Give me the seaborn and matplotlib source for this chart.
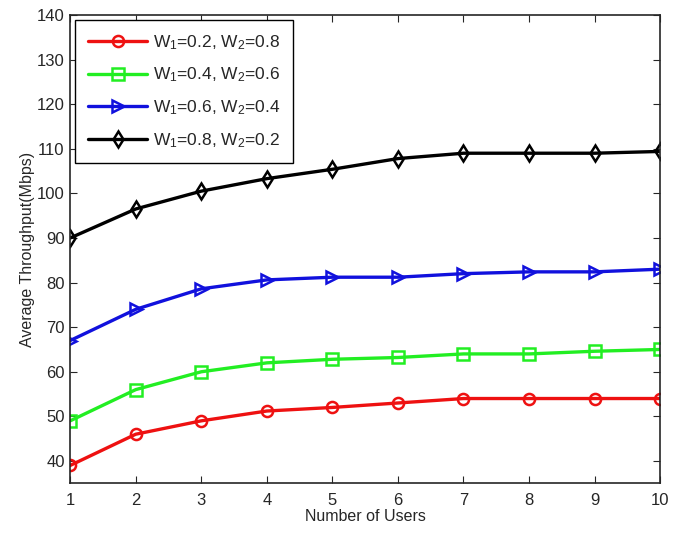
import matplotlib
matplotlib.use("Agg")
import matplotlib.pyplot as plt
import numpy as np
import pandas as pd
import seaborn as sns

users = [1, 2, 3, 4, 5, 6, 7, 8, 9, 10]
w_02_08 = [39.0, 46.0, 49.0, 51.2, 52.0, 53.0, 54.0, 54.0, 54.0, 54.0]
w_04_06 = [49.0, 56.0, 60.0, 62.0, 62.8, 63.2, 64.0, 64.0, 64.6, 65.0]
w_06_04 = [67.0, 74.0, 78.6, 80.6, 81.2, 81.2, 82.0, 82.4, 82.4, 83.0]
w_08_02 = [90.0, 96.5, 100.5, 103.3, 105.4, 107.8, 109.0, 109.0, 109.0, 109.4]

labels = [r"$\mathregular{W_1}$=0.2, $\mathregular{W_2}$=0.8",
          r"$\mathregular{W_1}$=0.4, $\mathregular{W_2}$=0.6",
          r"$\mathregular{W_1}$=0.6, $\mathregular{W_2}$=0.4",
          r"$\mathregular{W_1}$=0.8, $\mathregular{W_2}$=0.2"]
colors = ["#ee1111", "#22ee22", "#1111dd", "#000000"]
markers = ["o", "s", ">", "d"]

sns.set_style("ticks")
plt.rcParams["font.family"] = ["Liberation Sans", "DejaVu Sans"]
plt.rcParams["mathtext.fontset"] = "custom"
plt.rcParams["mathtext.rm"] = "Liberation Sans"

fig = plt.figure(figsize=(6.75, 5.34), dpi=100)
ax = fig.add_axes([0.104, 0.095, 0.874, 0.877])

for vals, lbl, c, m in zip([w_02_08, w_04_06, w_06_04, w_08_02], labels, colors, markers):
    df = pd.DataFrame({"users": users, "tp": vals})
    sns.lineplot(data=df, x="users", y="tp", ax=ax, color=c, marker=m, lw=2.4,
                 markersize=8, markerfacecolor="none", markeredgecolor=c,
                 markeredgewidth=1.8, label=lbl)

ax.set_xlim(1, 10)
ax.set_ylim(35, 140)
ax.set_xticks(users)
ax.set_yticks(np.arange(40, 141, 10))
ax.tick_params(direction="in", top=True, right=True, labelsize=12, length=5, pad=4)
ax.tick_params(axis="x", pad=7)
for s in ax.spines.values():
    s.set_linewidth(1.2)
ax.set_xlabel("Number of Users", fontsize=11.5, labelpad=1)
ax.set_ylabel("Average Throughput(Mbps)", fontsize=11.5, labelpad=1)
leg = ax.legend(loc="upper left", fontsize=12.5, frameon=True, fancybox=False,
                edgecolor="black", framealpha=1, handlelength=3.4, borderaxespad=0.3,
                labelspacing=0.8, handletextpad=0.3, borderpad=0.75)
leg.get_frame().set_linewidth(1.0)

fig.savefig("out.png", dpi=100)
